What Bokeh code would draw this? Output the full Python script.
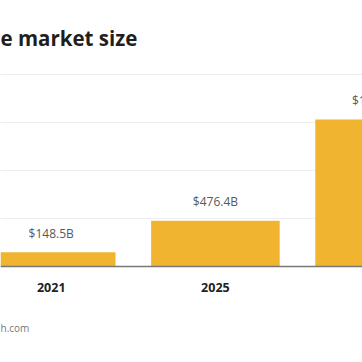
from bokeh.plotting import figure
from bokeh.models import Range1d, FixedTicker, Label, Span
from bokeh.core.properties import value
from bokeh.embed import file_html
from bokeh.resources import INLINE

# Data
years = ["2021", "2025", "2030"]
market_size_b = [148.5, 476.4, 1531.0]
value_labels = ["$148.5B", "$476.4B", "$1,531.0B"]
grid_ticks = [500, 1000, 1500, 2000]
title_text = "e market size"
source_text = "h.com"

FONT = "Open Sans"
BAR = "#F0B430"

xs = list(range(len(years)))
zeros = [0] * len(years)

p = figure(width=362, height=362, output_backend="svg", toolbar_location=None,
           x_range=Range1d(-0.309, 1.896), y_range=Range1d(-1000, 2771),
           x_axis_location=None, y_axis_location=None,
           min_border=0, margin=0)
p.outline_line_color = None
p.background_fill_color = "white"
p.border_fill_color = "white"

p.xgrid.grid_line_color = None
p.ygrid.ticker = FixedTicker(ticks=grid_ticks)
p.ygrid.grid_line_color = "#EDEDED"
p.ygrid.grid_line_width = 1

p.vbar(x=xs, top=market_size_b, width=0.783, bottom=0, color=BAR, line_color=None)

# baseline
p.add_layout(Span(location=0, dimension="width", line_color="#777777", line_width=1.5))

p.text(x=xs, y=market_size_b, text=value_labels, text_align="center",
       text_baseline="middle", y_offset=-19, text_font=value(FONT),
       text_font_size="12px", text_color="#595959")

# category (year) labels under the baseline
p.text(x=xs, y=zeros, text=years, text_align="center", text_baseline="middle",
       y_offset=21, text_font=value(FONT), text_font_style="bold",
       text_font_size="12.5px", text_color="#222222")

p.add_layout(Label(x=0, y=325, x_units="screen", y_units="screen", text=title_text,
                   text_font=FONT, text_font_style="bold", text_font_size="20.5px",
                   text_color="#1F1F1F", text_baseline="alphabetic"))
p.add_layout(Label(x=0, y=35, x_units="screen", y_units="screen", text=source_text,
                   text_font=FONT, text_font_size="10px",
                   text_color="#777777", text_baseline="alphabetic"))

open("out.html", "w").write(file_html(p, INLINE))
